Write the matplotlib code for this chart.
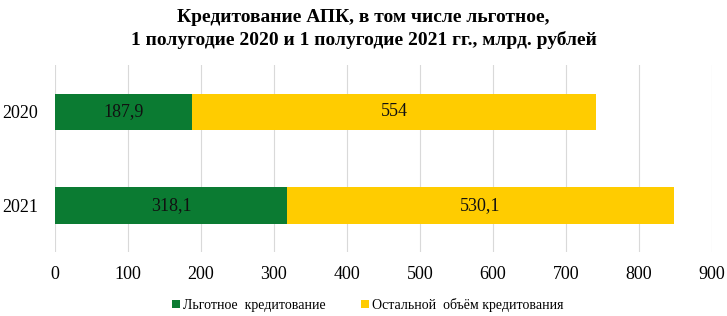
import matplotlib.pyplot as plt
import numpy as np

plt.rcParams['font.family'] = ['Liberation Serif', 'DejaVu Serif']

years = ['2021', '2020']
preferential = [318.1, 187.9]
other = [530.1, 554]
pref_labels = ['318,1', '187,9']
other_labels = ['530,1', '554']
series_names = ['Льготное  кредитование', 'Остальной  объём кредитования']

green = '#0B7B32'
yellow = '#FFCC00'

fig = plt.figure(figsize=(7.27, 3.16), dpi=100)
ax = fig.add_axes([0.0757, 0.2025, 0.9033, 0.5915])

y = np.arange(len(years))
h = 0.39
b1 = ax.barh(y, preferential, height=h, color=green, label=series_names[0], zorder=2)
b2 = ax.barh(y, other, left=preferential, height=h, color=yellow, label=series_names[1], zorder=2)

for i in range(len(years)):
    ax.text(preferential[i] / 2, y[i], pref_labels[i], ha='center', va='center', fontsize=13, color='#111111')
    ax.text(preferential[i] + other[i] / 2, y[i], other_labels[i], ha='center', va='center', fontsize=13, color='#111111')

ax.set_xlim(0, 900)
ax.set_ylim(-0.5, 1.5)
ax.set_xticks(np.arange(0, 901, 100))
ax.set_yticks(y)
ax.set_yticklabels(years)
ax.tick_params(axis='both', length=0, labelsize=13)
ax.tick_params(axis='x', pad=10)
ax.tick_params(axis='y', pad=12)
ax.grid(axis='x', color='#d9d9d9', linewidth=0.8, zorder=0)
for s in ax.spines.values():
    s.set_visible(False)

fig.suptitle('Кредитование АПК, в том числе льготное,\n1 полугодие 2020 и 1 полугодие 2021 гг., млрд. рублей',
             fontsize=14, fontweight='bold', y=0.97, linespacing=1.35)

fig.legend(handles=[b1, b2], loc='center', bbox_to_anchor=(0.506, 0.035), ncol=2, frameon=False,
           fontsize=10, handlelength=0.55, handleheight=0.55, handletextpad=0.2, columnspacing=2.6)

fig.savefig('out.png', dpi=100)
